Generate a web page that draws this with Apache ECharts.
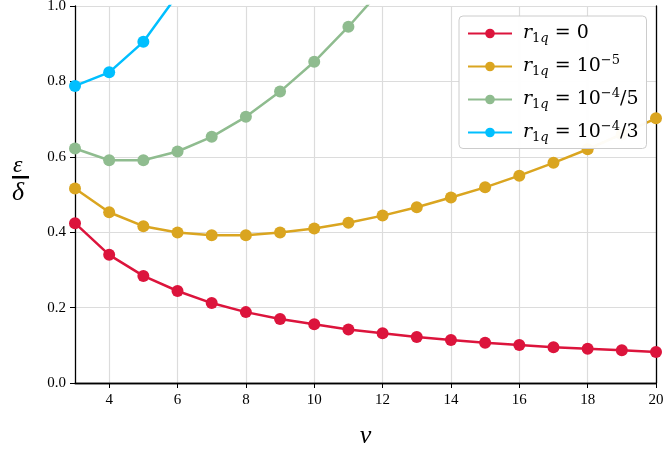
<!DOCTYPE html>
<html>
<head>
<meta charset="utf-8">
<script src="https://cdn.jsdelivr.net/npm/echarts@6/dist/echarts.min.js"></script>
<style>
  html, body { margin: 0; padding: 0; background: #fff; }
  #main { width: 668px; height: 451px; }
</style>
</head>
<body>
<div id="main"></div>
<script>
var xs = [3, 4, 5, 6, 7, 8, 9, 10, 11, 12, 13, 14, 15, 16, 17, 18, 19, 20];
var xTicks = [4, 6, 8, 10, 12, 14, 16, 18, 20];

var r0 = [0.424, 0.340, 0.284, 0.244, 0.212, 0.188, 0.170, 0.156, 0.142, 0.132, 0.122, 0.114, 0.107, 0.101, 0.095, 0.091, 0.087, 0.082];
var r1e5 = [0.516, 0.453, 0.416, 0.399, 0.392, 0.392, 0.399, 0.410, 0.425, 0.444, 0.466, 0.492, 0.519, 0.550, 0.584, 0.620, 0.660, 0.702];
var r1e4d5 = [0.622, 0.591, 0.591, 0.614, 0.653, 0.706, 0.773, 0.852, 0.945, 1.047];
var r1e4d3 = [0.788, 0.824, 0.905, 1.030];

var names = ['r0', 'r1e5', 'r1e4d5', 'r1e4d3'];
var colors = ['#DC143C', '#DAA520', '#8FBC8F', '#00BFFF'];
var values = [r0, r1e5, r1e4d5, r1e4d3];

// legend texts as rich strings: r_{1q} = ...
var legendText = {
	r0: '{it|r}{sub|1}{subit|q}{rm| = 0}',
	r1e5: '{it|r}{sub|1}{subit|q}{rm| = 10}{sup|−5}',
	r1e4d5: '{it|r}{sub|1}{subit|q}{rm| = 10}{sup|−4}{rm|/5}',
	r1e4d3: '{it|r}{sub|1}{subit|q}{rm| = 10}{sup|−4}{rm|/3}'
};

var serif = '"Liberation Serif", "DejaVu Serif", serif';
var lgFont = '"DejaVu Serif", serif';

function pairs(vals) {
	return vals.map(function (v, i) { return [xs[i], v]; });
}

var myChart = echarts.init(document.getElementById('main'));

var series = names.map(function (n, i) {
	return {
		name: n,
		type: 'line',
		data: pairs(values[i]),
		symbol: 'circle',
		symbolSize: 12,
		clip: true,
		itemStyle: { color: colors[i] },
		lineStyle: { color: colors[i], width: 2.5 },
		emphasis: { disabled: true },
		animation: false
	};
});

var option = {
	animation: false,
	grid: {
		left: 75,
		right: 12,
		top: 6,
		bottom: 68,
		outerBoundsMode: 'none',
		containLabel: false
	},
	xAxis: [{
		type: 'value',
		min: 3,
		max: 20,
		name: 'v',
		nameLocation: 'middle',
		nameGap: 40,
		nameTextStyle: { fontFamily: serif, fontStyle: 'italic', fontSize: 26, color: '#000' },
		axisLine: { lineStyle: { color: '#000', width: 1.3 } },
		axisTick: { show: true, length: 5, customValues: xTicks, lineStyle: { color: '#000' } },
		axisLabel: { customValues: xTicks, fontFamily: serif, fontSize: 15, color: '#000', margin: 10 },
		splitLine: { show: true, lineStyle: { color: '#dcdcdc', width: 1.2 } }
	}, {
		type: 'value',
		position: 'top',
		min: 3,
		max: 20,
		axisLine: { show: true, lineStyle: { color: '#000', width: 1.3 } },
		axisTick: { show: false },
		axisLabel: { show: false },
		splitLine: { show: false }
	}],
	yAxis: [{
		type: 'value',
		min: 0,
		max: 1,
		interval: 0.2,
		axisLine: { show: true, lineStyle: { color: '#000', width: 1.3 } },
		axisTick: { show: true, length: 5, lineStyle: { color: '#000' } },
		axisLabel: {
			fontFamily: serif, fontSize: 15, color: '#000', margin: 9,
			formatter: function (v) { return v.toFixed(1); }
		},
		splitLine: { show: true, lineStyle: { color: '#dcdcdc', width: 1.2 } }
	}, {
		type: 'value',
		position: 'right',
		min: 0,
		max: 1,
		axisLine: { show: true, lineStyle: { color: '#000', width: 1.3 } },
		axisTick: { show: false },
		axisLabel: { show: false },
		splitLine: { show: false }
	}],
	legend: {
		data: names,
		orient: 'vertical',
		left: 459,
		top: 16,
		padding: [8, 8, 4, 8],
		itemGap: 9,
		itemWidth: 44,
		itemHeight: 12,
		backgroundColor: 'rgba(255,255,255,0.96)',
		borderColor: '#cccccc',
		borderWidth: 1,
		borderRadius: 4,
		formatter: function (n) { return legendText[n]; },
		textStyle: {
			color: '#000',
			fontFamily: lgFont,
			fontSize: 18,
			padding: [0, 0, 0, 6],
			rich: {
				it: { fontFamily: lgFont, fontStyle: 'italic', fontSize: 19, lineHeight: 24, verticalAlign: 'middle' },
				sub: { fontFamily: lgFont, fontSize: 13, lineHeight: 13, verticalAlign: 'bottom' },
				subit: { fontFamily: lgFont, fontStyle: 'italic', fontSize: 13, lineHeight: 13, verticalAlign: 'bottom' },
				rm: { fontFamily: lgFont, fontSize: 19, lineHeight: 24, verticalAlign: 'middle' },
				sup: { fontFamily: lgFont, fontSize: 13, lineHeight: 13, verticalAlign: 'top' }
			}
		}
	},
	graphic: [
		{ type: 'text', left: 13, top: 154, style: { text: 'ε', font: 'italic 24px ' + serif, fill: '#000' } },
		{ type: 'rect', left: 12, top: 176, shape: { width: 17, height: 2.5 }, style: { fill: '#000' } },
		{ type: 'text', left: 12, top: 180, style: { text: 'δ', font: 'italic 26px ' + serif, fill: '#000' } }
	],
	series: series
};

myChart.setOption(option);
</script>
</body>
</html>
